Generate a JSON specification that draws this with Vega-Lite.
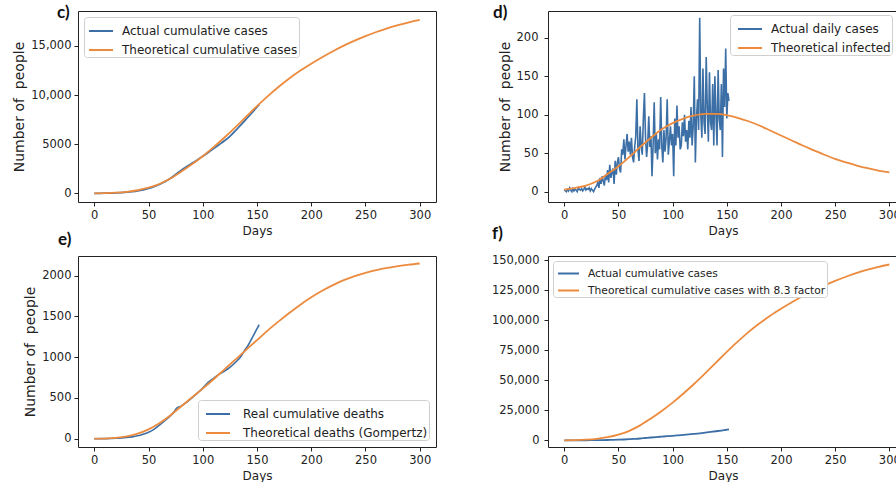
{
  "$schema": "https://vega.github.io/schema/vega-lite/v6.json",
  "background": "white",
  "padding": {"left": 12, "top": 3, "right": 0, "bottom": 0},
  "autosize": {"type": "pad"},
  "bounds": "flush",
  "columns": 2,
  "spacing": {"row": 54, "column": 112},
  "resolve": {"scale": {"color": "independent", "x": "independent", "y": "independent"}, "legend": {"color": "independent"}},
  "datasets": {
    "actual_cum": [
      {"day": 0, "value": 0}, {"day": 5, "value": 2}, {"day": 10, "value": 8}, {"day": 15, "value": 20}, {"day": 20, "value": 40},
      {"day": 25, "value": 70}, {"day": 30, "value": 110}, {"day": 35, "value": 170}, {"day": 40, "value": 250}, {"day": 45, "value": 360},
      {"day": 50, "value": 500}, {"day": 55, "value": 680}, {"day": 60, "value": 900}, {"day": 65, "value": 1180}, {"day": 70, "value": 1500},
      {"day": 75, "value": 1920}, {"day": 80, "value": 2330}, {"day": 85, "value": 2700}, {"day": 90, "value": 3050}, {"day": 95, "value": 3400},
      {"day": 100, "value": 3760}, {"day": 105, "value": 4150}, {"day": 110, "value": 4550}, {"day": 115, "value": 4950}, {"day": 120, "value": 5350},
      {"day": 125, "value": 5800}, {"day": 130, "value": 6350}, {"day": 135, "value": 6950}, {"day": 140, "value": 7550}, {"day": 145, "value": 8150},
      {"day": 150, "value": 8800}, {"day": 152, "value": 9050}
    ],
    "c_theo": [
      {"day": 0, "value": 0}, {"day": 10, "value": 15}, {"day": 20, "value": 60}, {"day": 30, "value": 150}, {"day": 40, "value": 310},
      {"day": 50, "value": 570}, {"day": 60, "value": 950}, {"day": 70, "value": 1500}, {"day": 80, "value": 2200}, {"day": 90, "value": 2950},
      {"day": 100, "value": 3780}, {"day": 110, "value": 4700}, {"day": 120, "value": 5680}, {"day": 130, "value": 6720}, {"day": 140, "value": 7800},
      {"day": 150, "value": 8880}, {"day": 160, "value": 9900}, {"day": 170, "value": 10850}, {"day": 180, "value": 11720}, {"day": 190, "value": 12500},
      {"day": 200, "value": 13200}, {"day": 210, "value": 13860}, {"day": 220, "value": 14470}, {"day": 230, "value": 15030}, {"day": 240, "value": 15540},
      {"day": 250, "value": 16000}, {"day": 260, "value": 16420}, {"day": 270, "value": 16800}, {"day": 280, "value": 17130}, {"day": 290, "value": 17410},
      {"day": 300, "value": 17650}
    ],
    "d_daily": [
      {"day": 0, "value": 2}, {"day": 1, "value": 1}, {"day": 2, "value": 0}, {"day": 3, "value": 3}, {"day": 4, "value": 1},
      {"day": 5, "value": 5}, {"day": 6, "value": 2}, {"day": 7, "value": 0}, {"day": 8, "value": 4}, {"day": 9, "value": 1},
      {"day": 10, "value": 3}, {"day": 11, "value": 2}, {"day": 12, "value": 0}, {"day": 13, "value": 5}, {"day": 14, "value": 3},
      {"day": 15, "value": 2}, {"day": 16, "value": 4}, {"day": 17, "value": 1}, {"day": 18, "value": 3}, {"day": 19, "value": 6},
      {"day": 20, "value": 2}, {"day": 21, "value": 4}, {"day": 22, "value": 3}, {"day": 23, "value": 5}, {"day": 24, "value": 1},
      {"day": 25, "value": 4}, {"day": 26, "value": 2}, {"day": 27, "value": 0}, {"day": 28, "value": 3}, {"day": 29, "value": 6},
      {"day": 30, "value": 8}, {"day": 31, "value": 12}, {"day": 32, "value": 5}, {"day": 33, "value": 18}, {"day": 34, "value": 10},
      {"day": 35, "value": 20}, {"day": 36, "value": 14}, {"day": 37, "value": 8}, {"day": 38, "value": 22}, {"day": 39, "value": 15},
      {"day": 40, "value": 28}, {"day": 41, "value": 12}, {"day": 42, "value": 35}, {"day": 43, "value": 18}, {"day": 44, "value": 25},
      {"day": 45, "value": 30}, {"day": 46, "value": 10}, {"day": 47, "value": 40}, {"day": 48, "value": 22}, {"day": 49, "value": 38},
      {"day": 50, "value": 45}, {"day": 51, "value": 30}, {"day": 52, "value": 25}, {"day": 53, "value": 55}, {"day": 54, "value": 48},
      {"day": 55, "value": 68}, {"day": 56, "value": 42}, {"day": 57, "value": 60}, {"day": 58, "value": 75}, {"day": 59, "value": 52},
      {"day": 60, "value": 65}, {"day": 61, "value": 48}, {"day": 62, "value": 70}, {"day": 63, "value": 45}, {"day": 64, "value": 38},
      {"day": 65, "value": 58}, {"day": 66, "value": 72}, {"day": 67, "value": 120}, {"day": 68, "value": 55}, {"day": 69, "value": 40},
      {"day": 70, "value": 85}, {"day": 71, "value": 60}, {"day": 72, "value": 48}, {"day": 73, "value": 95}, {"day": 74, "value": 128},
      {"day": 75, "value": 70}, {"day": 76, "value": 45}, {"day": 77, "value": 62}, {"day": 78, "value": 98}, {"day": 79, "value": 58},
      {"day": 80, "value": 72}, {"day": 81, "value": 20}, {"day": 82, "value": 60}, {"day": 83, "value": 116}, {"day": 84, "value": 50},
      {"day": 85, "value": 75}, {"day": 86, "value": 42}, {"day": 87, "value": 68}, {"day": 88, "value": 55}, {"day": 89, "value": 123},
      {"day": 90, "value": 60}, {"day": 91, "value": 38}, {"day": 92, "value": 80}, {"day": 93, "value": 52}, {"day": 94, "value": 70},
      {"day": 95, "value": 120}, {"day": 96, "value": 48}, {"day": 97, "value": 65}, {"day": 98, "value": 85}, {"day": 99, "value": 60},
      {"day": 100, "value": 75}, {"day": 101, "value": 20}, {"day": 102, "value": 95}, {"day": 103, "value": 60}, {"day": 104, "value": 112},
      {"day": 105, "value": 70}, {"day": 106, "value": 85}, {"day": 107, "value": 55}, {"day": 108, "value": 60}, {"day": 109, "value": 90},
      {"day": 110, "value": 72}, {"day": 111, "value": 100}, {"day": 112, "value": 65}, {"day": 113, "value": 80}, {"day": 114, "value": 55},
      {"day": 115, "value": 92}, {"day": 116, "value": 70}, {"day": 117, "value": 110}, {"day": 118, "value": 60}, {"day": 119, "value": 85},
      {"day": 120, "value": 150}, {"day": 121, "value": 38}, {"day": 122, "value": 95}, {"day": 123, "value": 120}, {"day": 124, "value": 80},
      {"day": 125, "value": 226}, {"day": 126, "value": 100}, {"day": 127, "value": 70}, {"day": 128, "value": 160}, {"day": 129, "value": 90},
      {"day": 130, "value": 75}, {"day": 131, "value": 175}, {"day": 132, "value": 110}, {"day": 133, "value": 65}, {"day": 134, "value": 155},
      {"day": 135, "value": 90}, {"day": 136, "value": 80}, {"day": 137, "value": 140}, {"day": 138, "value": 60}, {"day": 139, "value": 150},
      {"day": 140, "value": 100}, {"day": 141, "value": 60}, {"day": 142, "value": 158}, {"day": 143, "value": 95}, {"day": 144, "value": 80},
      {"day": 145, "value": 140}, {"day": 146, "value": 45}, {"day": 147, "value": 160}, {"day": 148, "value": 110}, {"day": 149, "value": 186},
      {"day": 150, "value": 95}, {"day": 151, "value": 128}, {"day": 152, "value": 118}
    ],
    "d_theo": [
      {"day": 0, "value": 2.5}, {"day": 10, "value": 5}, {"day": 20, "value": 8}, {"day": 30, "value": 13.5}, {"day": 40, "value": 23},
      {"day": 50, "value": 33}, {"day": 60, "value": 45}, {"day": 70, "value": 58}, {"day": 80, "value": 70}, {"day": 90, "value": 81},
      {"day": 100, "value": 89}, {"day": 110, "value": 95}, {"day": 120, "value": 99}, {"day": 130, "value": 101}, {"day": 140, "value": 101},
      {"day": 150, "value": 99.5}, {"day": 160, "value": 96}, {"day": 170, "value": 91.5}, {"day": 180, "value": 86}, {"day": 190, "value": 79.5},
      {"day": 200, "value": 73}, {"day": 210, "value": 66.5}, {"day": 220, "value": 60}, {"day": 230, "value": 54}, {"day": 240, "value": 48},
      {"day": 250, "value": 42.5}, {"day": 260, "value": 38}, {"day": 270, "value": 34}, {"day": 280, "value": 30.5}, {"day": 290, "value": 27.5},
      {"day": 300, "value": 25}
    ],
    "e_real": [
      {"day": 0, "value": 0}, {"day": 10, "value": 1}, {"day": 20, "value": 5}, {"day": 30, "value": 16}, {"day": 35, "value": 22},
      {"day": 40, "value": 35}, {"day": 45, "value": 55}, {"day": 50, "value": 80}, {"day": 55, "value": 115}, {"day": 60, "value": 165},
      {"day": 65, "value": 220}, {"day": 70, "value": 280}, {"day": 73, "value": 320}, {"day": 76, "value": 375}, {"day": 80, "value": 400},
      {"day": 85, "value": 445}, {"day": 90, "value": 500}, {"day": 95, "value": 560}, {"day": 100, "value": 620}, {"day": 105, "value": 690},
      {"day": 110, "value": 740}, {"day": 115, "value": 790}, {"day": 120, "value": 830}, {"day": 125, "value": 875}, {"day": 130, "value": 935},
      {"day": 135, "value": 1005}, {"day": 138, "value": 1070}, {"day": 142, "value": 1150}, {"day": 146, "value": 1250}, {"day": 150, "value": 1350},
      {"day": 152, "value": 1400}
    ],
    "e_theo": [
      {"day": 0, "value": 0}, {"day": 10, "value": 2}, {"day": 20, "value": 9}, {"day": 30, "value": 28}, {"day": 40, "value": 62},
      {"day": 50, "value": 115}, {"day": 60, "value": 190}, {"day": 70, "value": 285}, {"day": 80, "value": 395}, {"day": 90, "value": 505},
      {"day": 100, "value": 615}, {"day": 110, "value": 730}, {"day": 120, "value": 850}, {"day": 130, "value": 970}, {"day": 140, "value": 1090},
      {"day": 150, "value": 1210}, {"day": 160, "value": 1330}, {"day": 170, "value": 1440}, {"day": 180, "value": 1545}, {"day": 190, "value": 1645},
      {"day": 200, "value": 1735}, {"day": 210, "value": 1815}, {"day": 220, "value": 1885}, {"day": 230, "value": 1945}, {"day": 240, "value": 1995},
      {"day": 250, "value": 2035}, {"day": 260, "value": 2068}, {"day": 270, "value": 2095}, {"day": 280, "value": 2117}, {"day": 290, "value": 2135},
      {"day": 300, "value": 2150}
    ],
    "f_theo": [
      {"day": 0, "value": 0}, {"day": 10, "value": 125}, {"day": 20, "value": 500}, {"day": 30, "value": 1245}, {"day": 40, "value": 2570},
      {"day": 50, "value": 4730}, {"day": 60, "value": 7890}, {"day": 70, "value": 12450}, {"day": 80, "value": 18260}, {"day": 90, "value": 24490},
      {"day": 100, "value": 31370}, {"day": 110, "value": 39010}, {"day": 120, "value": 47140}, {"day": 130, "value": 55780}, {"day": 140, "value": 64740},
      {"day": 150, "value": 73700}, {"day": 160, "value": 82170}, {"day": 170, "value": 90160}, {"day": 180, "value": 97280}, {"day": 190, "value": 103750},
      {"day": 200, "value": 109560}, {"day": 210, "value": 115040}, {"day": 220, "value": 120100}, {"day": 230, "value": 124750}, {"day": 240, "value": 128980},
      {"day": 250, "value": 132800}, {"day": 260, "value": 136290}, {"day": 270, "value": 139440}, {"day": 280, "value": 142180}, {"day": 290, "value": 144500},
      {"day": 300, "value": 146500}
    ]
  },
  "concat": [
    {
      "width": 358, "height": 191,
      "title": {"text": "c)", "dx": -21, "dy": 15},
      "encoding": {
        "x": {"field": "day", "type": "quantitative", "scale": {"domain": [-15, 315], "nice": false, "zero": false}, "axis": {"values": [0, 50, 100, 150, 200, 250, 300], "title": "Days"}},
        "y": {"field": "value", "type": "quantitative", "scale": {"domain": [-886, 18560], "nice": false, "zero": false}, "axis": {"values": [0, 5000, 10000, 15000], "labelExpr": "datum.value >= 10000 ? format(datum.value, ',') : format(datum.value, 'd')", "title": "Number of\u00a0 people"}}
      },
      "layer": [
        {"data": {"name": "actual_cum"}, "mark": {"type": "line", "strokeWidth": 1.8, "interpolate": "monotone"},
         "encoding": {"color": {"datum": "Actual cumulative cases", "type": "nominal", "scale": {"domain": ["Actual cumulative cases", "Theoretical cumulative cases"], "range": ["#3c6fa6", "#ec8a3d"]},
           "legend": {"title": null, "orient": "top-left", "offset": 6, "symbolOffset": 3}}}},
        {"data": {"name": "c_theo"}, "mark": {"type": "line", "strokeWidth": 1.8, "interpolate": "monotone"},
         "encoding": {"color": {"datum": "Theoretical cumulative cases", "type": "nominal"}}}
      ]
    },
    {
      "width": 350, "height": 191,
      "title": {"text": "d)", "dx": -55, "dy": 15},
      "encoding": {
        "x": {"field": "day", "type": "quantitative", "scale": {"domain": [-15, 308], "nice": false, "zero": false}, "axis": {"values": [0, 50, 100, 150, 200, 250, 300], "title": "Days"}},
        "y": {"field": "value", "type": "quantitative", "scale": {"domain": [-13.4, 234.7], "nice": false, "zero": false}, "axis": {"values": [0, 50, 100, 150, 200], "title": "Number of\u00a0 people", "labelPadding": 6}}
      },
      "layer": [
        {"data": {"name": "d_daily"}, "mark": {"type": "line", "strokeWidth": 1.6},
         "encoding": {"color": {"datum": "Actual daily cases", "type": "nominal", "scale": {"domain": ["Actual daily cases", "Theoretical infected"], "range": ["#3c6fa6", "#ec8a3d"]},
           "legend": {"title": null, "orient": "none", "legendX": 182, "legendY": 4, "symbolOffset": 6}}}},
        {"data": {"name": "d_theo"}, "mark": {"type": "line", "strokeWidth": 1.8, "interpolate": "monotone"},
         "encoding": {"color": {"datum": "Theoretical infected", "type": "nominal"}}}
      ]
    },
    {
      "width": 358, "height": 191,
      "title": {"text": "e)", "dx": -20, "dy": -3},
      "encoding": {
        "x": {"field": "day", "type": "quantitative", "scale": {"domain": [-15, 315], "nice": false, "zero": false}, "axis": {"values": [0, 50, 100, 150, 200, 250, 300], "title": "Days"}},
        "y": {"field": "value", "type": "quantitative", "scale": {"domain": [-102, 2242], "nice": false, "zero": false}, "axis": {"values": [0, 500, 1000, 1500, 2000], "format": "d", "title": "Number of\u00a0 people"}}
      },
      "layer": [
        {"data": {"name": "e_real"}, "mark": {"type": "line", "strokeWidth": 1.6, "interpolate": "monotone"},
         "encoding": {"color": {"datum": "Real cumulative deaths", "type": "nominal", "scale": {"domain": ["Real cumulative deaths", "Theoretical deaths (Gompertz)"], "range": ["#3c6fa6", "#ec8a3d"]},
           "legend": {"title": null, "orient": "bottom-right", "offset": 7, "symbolOffset": 6, "labelOffset": 12}}}},
        {"data": {"name": "e_theo"}, "mark": {"type": "line", "strokeWidth": 1.8, "interpolate": "monotone"},
         "encoding": {"color": {"datum": "Theoretical deaths (Gompertz)", "type": "nominal"}}}
      ]
    },
    {
      "width": 350, "height": 191,
      "title": {"text": "f)", "dx": -56, "dy": -7},
      "encoding": {
        "x": {"field": "day", "type": "quantitative", "scale": {"domain": [-15, 308], "nice": false, "zero": false}, "axis": {"values": [0, 50, 100, 150, 200, 250, 300], "title": "Days"}},
        "y": {"field": "value", "type": "quantitative", "scale": {"domain": [-5580, 153580], "nice": false, "zero": false}, "axis": {"values": [0, 25000, 50000, 75000, 100000, 125000, 150000], "labelExpr": "format(datum.value, ',')", "title": null, "labelPadding": 5}}
      },
      "layer": [
        {"data": {"name": "actual_cum"}, "mark": {"type": "line", "strokeWidth": 1.8, "interpolate": "monotone"},
         "encoding": {"color": {"datum": "Actual cumulative cases", "type": "nominal", "scale": {"domain": ["Actual cumulative cases", "Theoretical cumulative cases with 8.3 factor"], "range": ["#3c6fa6", "#ec8a3d"]},
           "legend": {"title": null, "orient": "top-left", "offset": 5, "labelFontSize": 10.7, "symbolSize": 441, "rowPadding": -5, "symbolOffset": 3}}}},
        {"data": {"name": "f_theo"}, "mark": {"type": "line", "strokeWidth": 1.8, "interpolate": "monotone"},
         "encoding": {"color": {"datum": "Theoretical cumulative cases with 8.3 factor", "type": "nominal"}}}
      ]
    }
  ],
  "config": {
    "view": {"stroke": "#222", "strokeWidth": 1},
    "title": {"font": "Lato", "fontWeight": "bold", "fontSize": 17, "anchor": "start", "frame": "group", "baseline": "alphabetic", "offset": 0, "color": "#111"},
    "axis": {"domain": false, "grid": false, "tickColor": "#222", "tickSize": 4, "tickWidth": 1, "labelFont": "DejaVu Sans", "labelFontSize": 11.5, "labelColor": "#222", "labelPadding": 3, "labelFlush": false, "titleFont": "DejaVu Sans", "titleFontWeight": "normal", "titleColor": "#222"},
    "axisX": {"titleFontSize": 12, "titlePadding": 5, "labelPadding": 3},
    "axisY": {"titleFontSize": 14, "titlePadding": 4},
    "legend": {"labelFont": "DejaVu Sans", "labelFontSize": 12, "labelColor": "#222", "labelLimit": 500, "symbolType": "stroke", "symbolStrokeWidth": 2, "symbolSize": 576, "strokeColor": "#cfcfcf", "fillColor": "#ffffff", "padding": 1, "cornerRadius": 3, "rowPadding": -6, "labelOffset": 8}
  }
}
